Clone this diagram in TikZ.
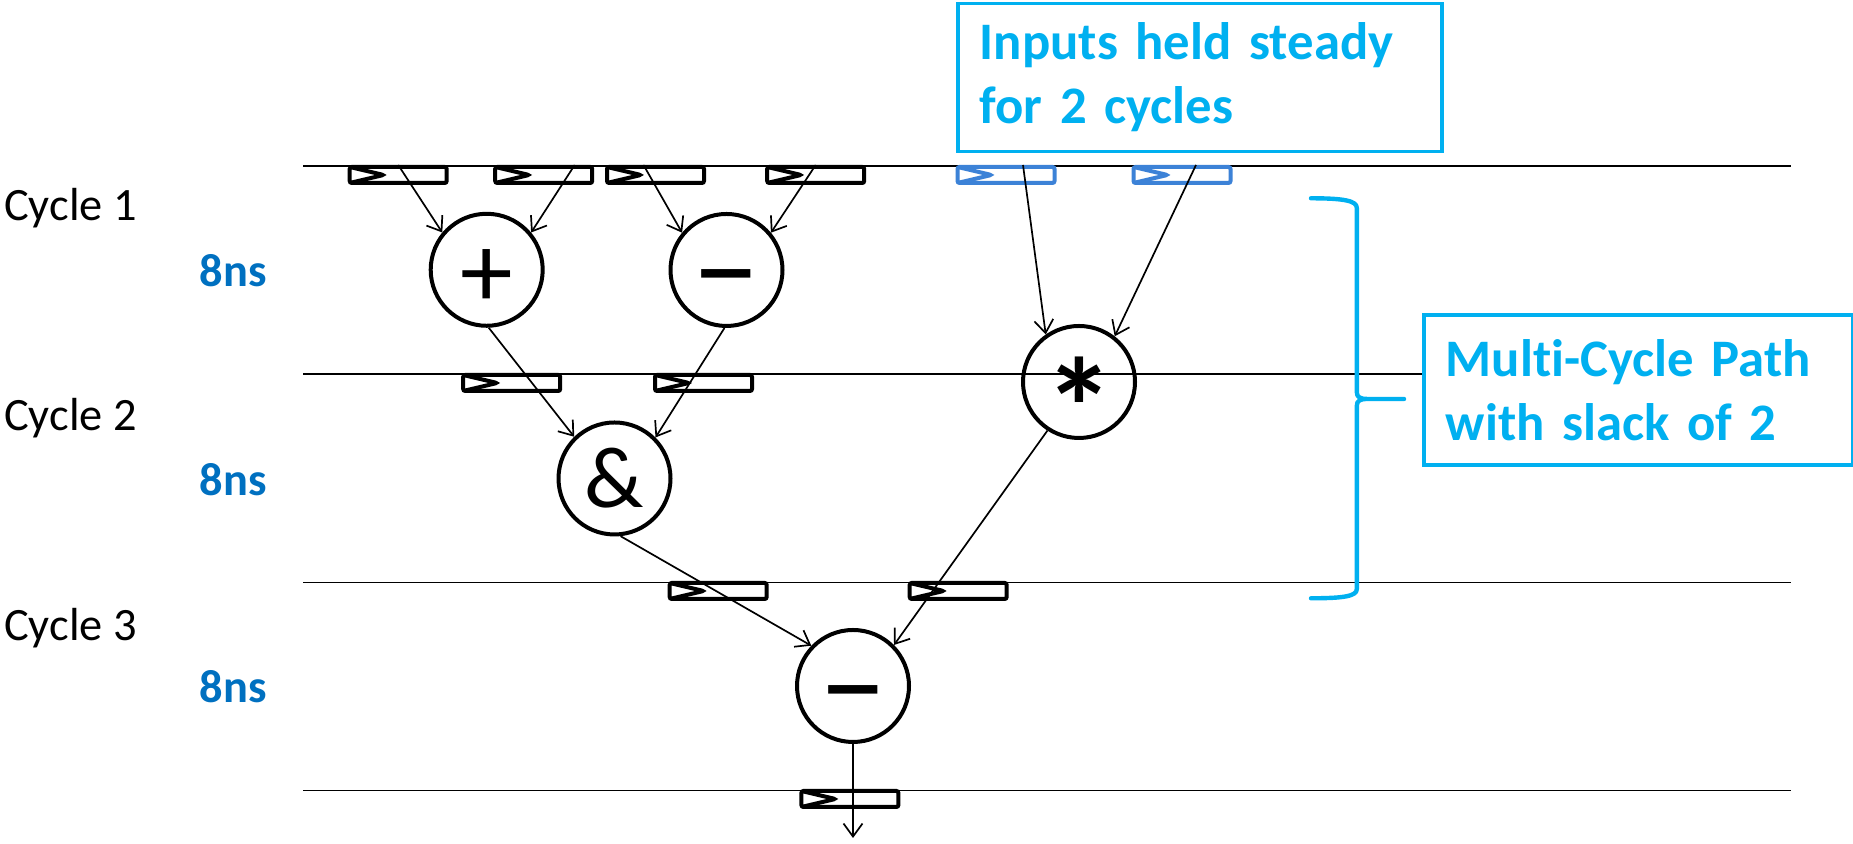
\documentclass[tikz,border=0pt]{standalone}
\usepackage{fontspec}
\setmainfont[Ligatures=NoCommon]{Carlito}
\usepackage{xcolor}
\definecolor{hblue}{RGB}{0,176,240}
\definecolor{nsblue}{RGB}{0,112,192}
\definecolor{regblue}{RGB}{60,130,215}
\usetikzlibrary{calc}
\usetikzlibrary{arrows.meta}
\tikzset{
  register/.style={rectangle,draw,fill=white,line width=.04cm,rounded corners=.02cm,
    minimum width=.97cm,minimum height=.16cm,inner sep=0pt},
  clock/.style={path picture={\draw[#1,line width=.04cm] (path picture bounding box.north west)
    -- ([xshift=.34cm]path picture bounding box.west) -- (path picture bounding box.south west);}},
  op/.style={circle,draw,line width=.04cm,minimum size=1.12cm,inner sep=0pt},
  wire/.style={line width=.017cm,-{Straight Barb[length=.13cm,width=.19cm]}},
  note/.style={draw=hblue,line width=.035cm,fill=white,text=hblue,align=left,anchor=north west,
    font=\fontsize{15}{18.2}\selectfont\bfseries,inner xsep=.22cm,inner ysep=0pt},
  cyc/.style={anchor=base west,inner sep=0pt,font=\fontsize{13.2}{16}\selectfont},
  per/.style={cyc,text=nsblue,font=\fontsize{13.2}{16}\selectfont\bfseries}
}
\newcommand{\reg}[3][black]{\node[register,draw=#1,clock=#1] (#2) at (#3) {};}
% operator glyph, lowered onto the centre of its circle
\newcommand{\opsym}[2]{\raisebox{-#1}[0pt][0pt]{#2}}

\begin{document}
\begin{tikzpicture}
  \useasboundingbox (0,0) rectangle (18.53,8.44);
  \pgfmathsetmacro{\rowa}{6.69};
  \pgfmathsetmacro{\rowb}{4.61};
  \pgfmathsetmacro{\rowc}{2.53};
  \pgfmathsetmacro{\rowd}{0.45};
  \foreach \y in {6.777,4.696,2.615,0.535}
    \draw[line width=.018cm] (3.03,\y) -- (17.91,\y);

  \node[cyc] (c1) at (0.035,6.23) {Cycle 1};
  \node[cyc] (c2) at (0.035,4.13) {Cycle 2};
  \node[cyc] (c3) at (0.035,2.035) {Cycle 3};
  \node[per] (p1) at (1.99,5.57) {8ns};
  \node[per] (p2) at (1.99,3.48) {8ns};
  \node[per] (p3) at (1.99,1.41) {8ns};

  \reg{r1}{3.982,\rowa};
  \reg{r2}{5.437,\rowa};
  \reg{r3}{6.555,\rowa};
  \reg{r4}{8.157,\rowa};
  \reg[regblue]{r5}{10.06,\rowa};
  \reg[regblue]{r6}{11.82,\rowa};
  \reg{ra}{5.117,\rowb};
  \reg{rb}{7.035,\rowb};
  \reg{rc}{7.182,\rowc};
  \reg{rd}{9.582,\rowc};
  \reg{re}{8.499,\rowd};

  \node[op,font=\fontsize{30}{30}\selectfont] (add) at (4.867,5.742) {\opsym{.36em}{+}};
  \node[op,font=\fontsize{37.5}{37.5}\selectfont] (sub) at (7.265,5.74) {\opsym{.345em}{−}};
  \node[op,font=\fontsize{24.75}{25}\selectfont] (and) at (6.145,3.655) {\&};
  \node[op,font=\fontsize{40}{40}\selectfont\bfseries] (mul) at (10.79,4.62) {\opsym{.54em}{*}};
  \node[op,font=\fontsize{37.5}{37.5}\selectfont] (res) at (8.53,1.58) {\opsym{.345em}{−}};
  \coordinate (q) at ([yshift=-.94cm]res.south);

  \draw[wire] (r1.north) -- (add.140);
  \draw[wire] ([xshift=.31cm]r2.north) -- (add.40);
  \draw[wire] ([xshift=-.12cm]r3.north) -- (sub.140);
  \draw[wire] (r4.north) -- (sub.40);
  \draw[wire] ([xshift=.17cm]r5.north) -- (mul.125);
  \draw[wire] ([xshift=.14cm]r6.north) -- (mul.52);
  \draw[wire] (add.-88) -- (and.134);
  \draw[wire] (sub.-92) -- (and.45);
  \draw[wire] (and.-84) -- (res.136);
  \draw[wire] (mul.-123) -- (res.45);
  \draw[wire] (res.south) -- (q);

  \node[note,text width=4.40cm,minimum height=1.48cm] (inputs) at (9.56,8.423)
    {Inputs held steady\\for 2 cycles};
  \node[note,text width=3.85cm,minimum height=1.50cm] (mcp) at (14.22,5.307)
    {Multi-Cycle Path\\with slack of 2};
  \draw[hblue,line width=.044cm,line cap=round,line join=round]
    (13.11,6.457) .. controls (13.45,6.457) and (13.568,6.43) .. (13.568,6.36)
    -- (13.568,4.52) .. controls (13.568,4.465) and (13.6,4.45) .. (13.68,4.45)
    -- (14.04,4.45) -- (13.68,4.45) .. controls (13.6,4.45) and (13.568,4.435) .. (13.568,4.38)
    -- (13.568,2.55) .. controls (13.568,2.48) and (13.45,2.457) .. (13.11,2.457);
\end{tikzpicture}
\end{document}
